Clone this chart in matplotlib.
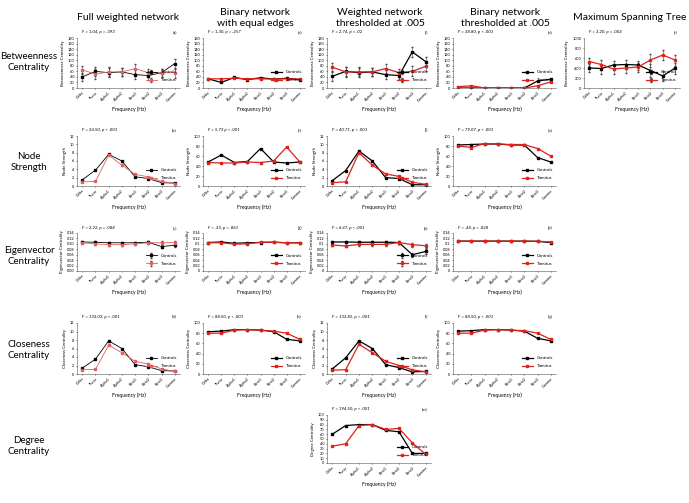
import matplotlib
matplotlib.use('Agg')
import matplotlib.pyplot as plt

plt.rcParams['font.family'] = ['Lato', 'DejaVu Sans']

freqs = ['Delta', 'Theta', 'Alpha1', 'Alpha2', 'Beta1', 'Beta2', 'Beta3', 'Gamma']

columns = ['Full weighted network', 'Binary network\nwith equal edges',
           'Weighted network\nthresholded at .005', 'Binary network\nthresholded at .005',
           'Maximum Spanning Tree']
rows = ['Betweenness\nCentrality', 'Node\nStrength', 'Eigenvector\nCentrality',
        'Closeness\nCentrality', 'Degree\nCentrality']
ylabels = ['Betweenness Centrality', 'Node Strength', 'Eigenvector Centrality',
           'Closeness Centrality', 'Degree Centrality']

# betweenness centrality
bc_full_ctrl = [40, 60, 55, 58, 48, 45, 55, 88]
bc_full_tinn = [65, 50, 58, 58, 70, 55, 55, 55]
bc_full_err = [15, 17, 16, 15, 17, 15, 15, 18]
bc_bin_ctrl = [33, 20, 38, 30, 37, 32, 35, 30]
bc_bin_tinn = [33, 33, 35, 33, 33, 32, 33, 32]
bc_thr_ctrl = [42, 60, 55, 58, 48, 45, 130, 95]
bc_thr_tinn = [75, 58, 58, 58, 70, 55, 60, 78]
bc_thr_err = [15, 17, 16, 15, 17, 12, 18, 18]
bc_bthr_ctrl = [0, 0, 0, 0, 0, 0, 25, 32]
bc_bthr_tinn = [5, 8, 0, 0, 0, 0, 8, 22]
bc_mst_ctrl = [400, 390, 460, 470, 460, 350, 240, 400]
bc_mst_tinn = [530, 470, 380, 400, 420, 560, 660, 560]
bc_mst_err = [80, 100, 90, 90, 90, 130, 100, 110]

# node strength
ns_full_ctrl = [1.5, 3.8, 7.6, 6.0, 2.2, 1.8, 0.8, 0.7]
ns_full_tinn = [1.0, 1.1, 7.4, 5.0, 2.8, 2.2, 1.1, 0.6]
ns_bin_ctrl = [48, 62, 47, 49, 75, 48, 46, 48]
ns_bin_tinn = [47, 46, 46, 48, 47, 50, 78, 48]
ns_thr_ctrl = [1.3, 3.7, 8.4, 6.0, 2.0, 1.8, 0.3, 0.3]
ns_thr_tinn = [0.8, 1.0, 8.0, 5.0, 2.9, 2.3, 0.9, 0.4]
ns_bthr_ctrl = [82, 83, 84, 84, 82, 82, 57, 48]
ns_bthr_tinn = [80, 77, 85, 84, 83, 83, 75, 60]

# eigenvector centrality
ec_full_ctrl = [0.107, 0.106, 0.104, 0.104, 0.104, 0.106, 0.090, 0.095]
ec_full_tinn = [0.104, 0.100, 0.097, 0.097, 0.100, 0.104, 0.104, 0.105]
ec_full_err = [0.004, 0.004, 0.004, 0.004, 0.004, 0.003, 0.006, 0.006]
ec_bin_ctrl = [0.105, 0.107, 0.102, 0.104, 0.105, 0.106, 0.104, 0.104]
ec_bin_tinn = [0.104, 0.104, 0.099, 0.100, 0.106, 0.106, 0.104, 0.104]
ec_thr_ctrl = [0.107, 0.107, 0.106, 0.106, 0.106, 0.105, 0.060, 0.072]
ec_thr_tinn = [0.096, 0.092, 0.098, 0.098, 0.098, 0.105, 0.097, 0.093]
ec_thr_err = [0.005, 0.005, 0.005, 0.005, 0.005, 0.004, 0.008, 0.008]
ec_bthr_ctrl = [0.110, 0.110, 0.110, 0.110, 0.110, 0.110, 0.109, 0.105]
ec_bthr_tinn = [0.110, 0.110, 0.110, 0.110, 0.110, 0.110, 0.110, 0.107]

# closeness centrality
cc_full_ctrl = [1.4, 3.5, 7.8, 6.0, 2.2, 1.7, 0.8, 0.7]
cc_full_tinn = [1.0, 1.1, 6.8, 5.0, 3.0, 2.3, 1.2, 0.6]
cc_bin_ctrl = [83, 84, 87, 87, 86, 83, 68, 65]
cc_bin_tinn = [80, 80, 86, 87, 86, 84, 80, 68]
cc_thr_ctrl = [1.2, 3.8, 7.8, 6.0, 2.2, 1.5, 0.5, 0.6]
cc_thr_tinn = [0.9, 1.0, 7.0, 5.0, 3.0, 2.0, 1.0, 0.5]
cc_bthr_ctrl = [84, 85, 87, 87, 86, 84, 70, 65]
cc_bthr_tinn = [80, 80, 86, 87, 86, 85, 80, 68]

# degree centrality
dc_thr_ctrl = [60, 78, 80, 80, 68, 65, 20, 20]
dc_thr_tinn = [35, 40, 78, 80, 70, 72, 42, 18]

# (row, col, label, stats, controls, tinnitus, error, ymax, ystep, tick format)
panels = [
    (0, 0, '(a)', 'F = 1.04, p = .393', bc_full_ctrl, bc_full_tinn, bc_full_err, 180, 20, '{:.0f}'),
    (0, 1, '(e)', 'F = 1.30, p = .257', bc_bin_ctrl, bc_bin_tinn, None, 180, 20, '{:.0f}'),
    (0, 2, '(i)', 'F = 2.74, p = .02', bc_thr_ctrl, bc_thr_tinn, bc_thr_err, 180, 20, '{:.0f}'),
    (0, 3, '(n)', 'F = 38.80, p < .001', bc_bthr_ctrl, bc_bthr_tinn, None, 180, 20, '{:.0f}'),
    (0, 4, '(r)', 'F = 3.20, p = .004', bc_mst_ctrl, bc_mst_tinn, bc_mst_err, 1000, 200, '{:.0f}'),
    (1, 0, '(b)', 'F = 34.50, p < .001', ns_full_ctrl, ns_full_tinn, None, 12, 2, '{:.0f}'),
    (1, 1, '(f)', 'F = 5.73 p < .001', ns_bin_ctrl, ns_bin_tinn, None, 100, 20, '{:.0f}'),
    (1, 2, '(j)', 'F = 40.71, p < .001', ns_thr_ctrl, ns_thr_tinn, None, 12, 2, '{:.0f}'),
    (1, 3, '(o)', 'F = 79.07, p < .001', ns_bthr_ctrl, ns_bthr_tinn, None, 100, 20, '{:.0f}'),
    (2, 0, '(c)', 'F = 2.22, p = .088', ec_full_ctrl, ec_full_tinn, ec_full_err, 0.14, 0.02, '{:.2f}'),
    (2, 1, '(g)', 'F = .33, p = .861', ec_bin_ctrl, ec_bin_tinn, None, 0.14, 0.02, '{:g}'),
    (2, 2, '(k)', 'F = 6.47, p < .001', ec_thr_ctrl, ec_thr_tinn, ec_thr_err, 0.14, 0.02, '{:g}'),
    (2, 3, '(p)', 'F = .48, p = .828', ec_bthr_ctrl, ec_bthr_tinn, None, 0.14, 0.02, '{:g}'),
    (3, 0, '(d)', 'F = 133.03, p < .001', cc_full_ctrl, cc_full_tinn, None, 12, 2, '{:.0f}'),
    (3, 1, '(h)', 'F = 88.50, p < .001', cc_bin_ctrl, cc_bin_tinn, None, 100, 20, '{:.0f}'),
    (3, 2, '(l)', 'F = 133.85, p < .001', cc_thr_ctrl, cc_thr_tinn, None, 12, 2, '{:.0f}'),
    (3, 3, '(q)', 'F = 88.50, p < .001', cc_bthr_ctrl, cc_bthr_tinn, None, 100, 20, '{:.0f}'),
    (4, 2, '(m)', 'F = 194.50, p < .001', dc_thr_ctrl, dc_thr_tinn, None, 100, 10, '{:.0f}'),
]

W, H = 689, 503
col_x = [(77, 103), (203, 102), (327, 104), (453, 103), (584, 96)]
row_y = [(38, 50), (136, 50), (233, 38), (323, 51), (415, 48)]
col_head_x = [128, 255, 380, 505, 630]
row_label_y = [62, 162, 256, 350, 446]


def draw_panel(fig, r, c, label, stats, ctrl, tinn, err, ymax, ystep, fmt):
    left, width = col_x[c]
    top, height = row_y[r]
    ax = fig.add_axes([left / W, 1 - (top + height) / H, width / W, height / H])
    x = range(len(freqs))
    thin = (c == 0)
    lw = 0.6 if thin else 0.9
    ms = 1.5 if thin else 1.8
    red = '#e06060' if thin else '#e0201b'
    ax.errorbar(x, ctrl, yerr=err, color='black', lw=lw, marker='s', ms=ms,
                elinewidth=0.4, capsize=1, ecolor='#444444', label='Controls')
    ax.errorbar(x, tinn, yerr=err, color=red, lw=lw, marker='s', ms=ms,
                elinewidth=0.4, capsize=1, ecolor='#444444', label='Tinnitus')
    ax.set_ylim(0, ymax)
    ax.set_xlim(-0.4, len(freqs) - 0.6)
    ticks = [i * ystep for i in range(int(round(ymax / ystep)) + 1)]
    ax.set_yticks(ticks)
    ax.set_yticklabels([fmt.format(t) for t in ticks])
    ax.set_xticks(list(x))
    ax.set_xticklabels(freqs, rotation=45, ha='right', rotation_mode='anchor')
    ax.tick_params(labelsize=2.8, length=1, width=0.4, pad=1)
    for s in ['top', 'right']:
        ax.spines[s].set_visible(False)
    for s in ['left', 'bottom']:
        ax.spines[s].set_linewidth(0.4)
        ax.spines[s].set_color('#555555')
    ax.set_ylabel(ylabels[r], fontsize=3.2, labelpad=2)
    ax.set_xlabel('Frequency (Hz)', fontsize=3.6, labelpad=3)
    ax.text(0.05, 1.08, stats, transform=ax.transAxes, fontsize=3.2,
            style='italic', va='bottom')
    ax.text(0.97, 1.08, label, transform=ax.transAxes, fontsize=3.2,
            ha='right', va='bottom')
    ax.legend(loc='lower right', fontsize=3.2, frameon=False, handlelength=2.5,
              borderaxespad=0.3, labelspacing=0.9, bbox_to_anchor=(1.0, 0.05))


fig = plt.figure(figsize=(W / 100, H / 100), dpi=100)

for i, name in enumerate(columns):
    fig.text(col_head_x[i] / W, 1 - 18 / H, name, ha='center', va='center',
             fontsize=7.5, linespacing=1.3)

for i, name in enumerate(rows):
    fig.text(29 / W, 1 - row_label_y[i] / H, name, ha='center', va='center',
             fontsize=7, linespacing=1.3)

for p in panels:
    draw_panel(fig, *p)

fig.savefig('out.png', dpi=100)
